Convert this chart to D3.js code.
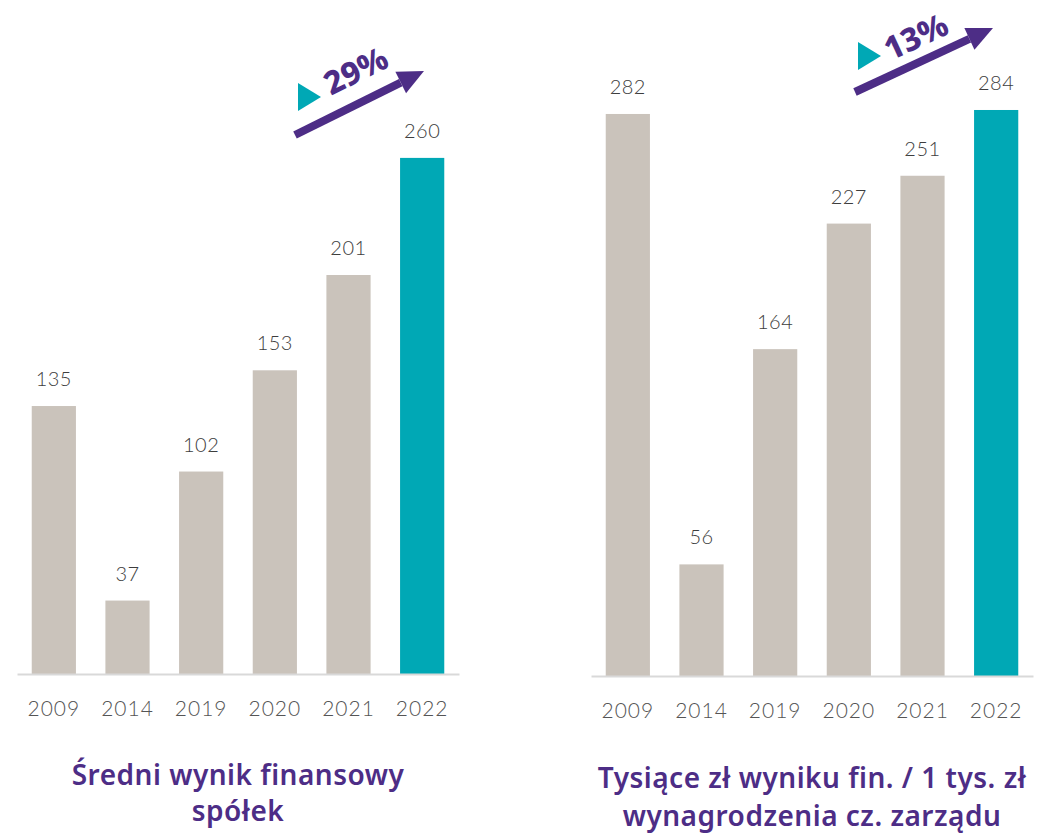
<!DOCTYPE html>
<html>
<head>
<meta charset="utf-8">
<script src="https://cdn.jsdelivr.net/npm/d3@7"></script>
<style>
  body { margin: 0; background: #fff; }
  svg { display: block; }
</style>
</head>
<body>
<div id="chart"></div>
<script>
// data
let years = ["2009", "2014", "2019", "2020", "2021", "2022"];
let avgResult = [135, 37, 102, 153, 201, 260];
let perBoardPay = [282, 56, 164, 227, 251, 284];
let leftTitle = ["Średni wynik finansowy", "spółek"];
let rightTitle = ["Tysiące zł wyniku fin. / 1 tys. zł", "wynagrodzenia cz. zarządu"];
let leftGrowth = "29%";
let rightGrowth = "13%";

let W = 1038, H = 838;
let grey = "#cac3bb", teal = "#00a8b5", purple = "#4d2d86";

let svg = d3.select("#chart").append("svg")
    .attr("width", W)
    .attr("height", H);

function drawPanel(opts)
{
    let g = svg.append("g");

    //X scale
    let xScale = d3.scaleBand()
        .domain(years)
        .range([opts.x0, opts.x1])
        .paddingInner(0.4)
        .paddingOuter(0.2);

    //Y scale
    let yScale = d3.scaleLinear()
        .domain([0, 100])
        .range([opts.base, opts.base - opts.per100]);

    // bars
    g.selectAll("rect")
        .data(opts.values)
        .enter()
        .append("rect")
        .attr("x", (d, i) => xScale(years[i]))
        .attr("y", d => yScale(d))
        .attr("width", xScale.bandwidth())
        .attr("height", d => yScale(0) - yScale(d))
        .attr("fill", (d, i) => i == years.length - 1 ? teal : grey);

    // value labels
    g.selectAll("text.val")
        .data(opts.values)
        .enter()
        .append("text")
        .attr("class", "val")
        .attr("x", (d, i) => xScale(years[i]) + xScale.bandwidth() / 2)
        .attr("y", d => yScale(d) - 20)
        .attr("text-anchor", "middle")
        .style("font-family", "Lato, sans-serif")
        .style("font-size", "20px")
        .style("font-weight", 300)
        .style("letter-spacing", "0.5px")
        .style("fill", "#3d3d3d")
        .text(d => d);

    // x axis
    let xAxis = d3.axisBottom(xScale).tickSize(0).tickPadding(27);
    let ax = g.append("g")
        .attr("transform", "translate(0," + opts.base + ")")
        .call(xAxis);
    ax.select(".domain").attr("stroke", "#d9d9d9").attr("stroke-width", 2);
    ax.selectAll("text")
        .style("font-family", "Lato, sans-serif")
        .style("font-size", "21px")
        .style("font-weight", 300)
        .style("letter-spacing", "1px")
        .style("fill", "#555");

    // title
    let t = g.append("text")
        .attr("text-anchor", "middle")
        .style("font-family", "'Noto Sans', sans-serif")
        .style("font-size", "28px")
        .style("font-weight", 600)
        .style("letter-spacing", "0.5px")
        .style("fill", purple);
    opts.title.forEach((line, i) =>
    {
        t.append("tspan")
            .attr("x", opts.titleX)
            .attr("y", opts.titleY + i * opts.titleGap)
            .text(line);
    });

    // growth arrow
    let a = opts.arrow;
    let ang = Math.atan2(a.y1 - a.y0, a.x1 - a.x0);
    let headLen = 26, headW = 12;
    let bx = a.x1 - headLen * Math.cos(ang), by = a.y1 - headLen * Math.sin(ang);
    g.append("line")
        .attr("x1", a.x0).attr("y1", a.y0)
        .attr("x2", bx).attr("y2", by)
        .attr("stroke", purple)
        .attr("stroke-width", 8);
    g.append("path")
        .attr("d", d3.line()([
            [a.x1, a.y1],
            [bx + headW * Math.sin(ang), by - headW * Math.cos(ang)],
            [bx - headW * Math.sin(ang), by + headW * Math.cos(ang)]
        ]) + "Z")
        .attr("fill", purple);

    // teal marker triangle
    g.append("path")
        .attr("d", d3.line()([
            [a.tx, a.ty - 14],
            [a.tx + 23, a.ty],
            [a.tx, a.ty + 14]
        ]) + "Z")
        .attr("fill", teal);

    g.append("text")
        .attr("transform", "translate(" + a.lx + "," + a.ly + ") rotate(" + (ang * 180 / Math.PI) + ")")
        .attr("text-anchor", "middle")
        .attr("dominant-baseline", "middle")
        .style("font-family", "'Noto Sans', sans-serif")
        .style("font-size", "32px")
        .style("font-weight", 800)
        .style("fill", purple)
        .text(opts.growth);
}

drawPanel({
    values: avgResult, x0: 17, x1: 459, base: 674, per100: 198.5,
    title: leftTitle, titleX: 238, titleY: 785, titleGap: 36, growth: leftGrowth,
    arrow: {x0: 295, y0: 135, x1: 424, y1: 71, tx: 298, ty: 97, lx: 357, ly: 73}
});

drawPanel({
    values: perBoardPay, x0: 591, x1: 1033, base: 676, per100: 199.3,
    title: rightTitle, titleX: 812, titleY: 788, titleGap: 38, growth: rightGrowth,
    arrow: {x0: 855, y0: 92, x1: 993, y1: 28, tx: 858, ty: 56, lx: 917, ly: 39}
});
</script>
</body>
</html>
